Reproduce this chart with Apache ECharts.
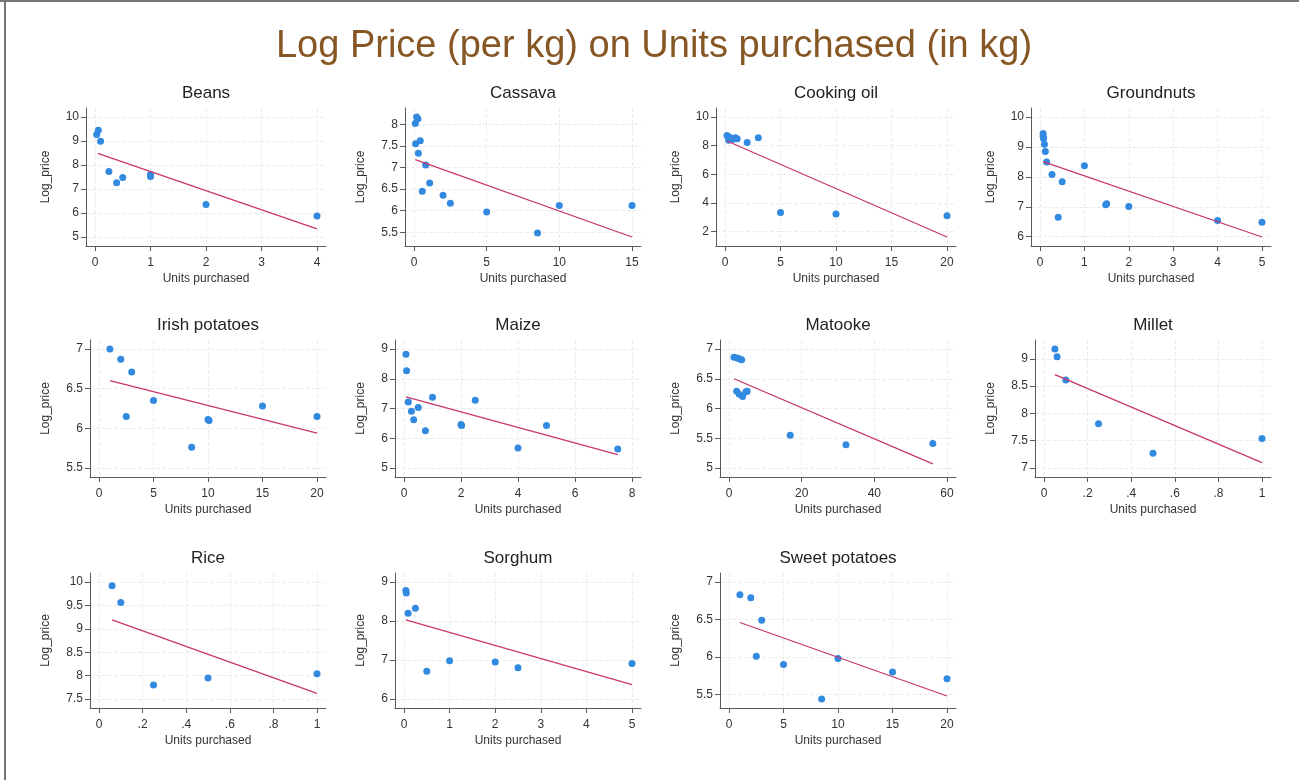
<!DOCTYPE html>
<html>
<head>
<meta charset="utf-8">
<script src="https://cdn.jsdelivr.net/npm/echarts@6/dist/echarts.min.js"></script>
<style>
  html, body { margin: 0; padding: 0; background: #fff; }
  #chart { width: 1299px; height: 780px; }
</style>
</head>
<body>
<div id="chart"></div>
<script>
// Panels, in reading order
const crops = ['Beans', 'Cassava', 'Cooking oil', 'Groundnuts', 'Irish potatoes', 'Maize',
               'Matooke', 'Millet', 'Rice', 'Sorghum', 'Sweet potatoes'];

// Observations: [units purchased (kg), log price per kg]
const beans = [[0.06, 9.45], [0.03, 9.27], [0.1, 8.99], [0.25, 7.73], [0.39, 7.26], [0.5, 7.48],
               [1, 7.6], [1, 7.52], [2, 6.35], [4, 5.87]];
const cassava = [[0.18, 8.17], [0.27, 8.13], [0.09, 8.02], [0.11, 7.55], [0.43, 7.62], [0.3, 7.33],
                 [0.8, 7.06], [0.57, 6.45], [1.08, 6.64], [2, 6.36], [2.5, 6.17], [5, 5.97],
                 [8.5, 5.48], [10, 6.12], [15, 6.12]];
const cookingOil = [[0.18, 8.71], [0.39, 8.6], [0.54, 8.5], [0.33, 8.37], [0.75, 8.44], [1.09, 8.48],
                    [0.94, 8.55], [2, 8.21], [3, 8.55], [5, 3.33], [10, 3.22], [20, 3.1]];
const groundnuts = [[0.07, 9.45], [0.07, 9.36], [0.08, 9.28], [0.1, 9.09], [0.12, 8.85], [0.15, 8.5],
                    [0.27, 8.08], [0.5, 7.84], [0.41, 6.65], [1, 8.37], [1.5, 7.1], [1.48, 7.07],
                    [2, 7.01], [4, 6.54], [5, 6.48]];
const irishPotatoes = [[1, 7.0], [2, 6.87], [3, 6.71], [2.5, 6.15], [5, 6.35], [10, 6.11], [10.1, 6.1],
                       [8.5, 5.76], [15, 6.28], [20, 6.15]];
const maize = [[0.07, 8.82], [0.09, 8.27], [0.15, 7.22], [0.26, 6.91], [0.34, 6.62], [0.5, 7.03],
               [0.75, 6.25], [1, 7.38], [2, 6.46], [2.02, 6.43], [2.5, 7.28], [4, 5.67], [5, 6.43],
               [7.5, 5.64]];
const matooke = [[1.37, 6.86], [2.29, 6.85], [3.0, 6.83], [3.48, 6.82], [2.1, 6.29], [2.84, 6.24],
                 [3.75, 6.2], [4.67, 6.28], [5.0, 6.29], [16.85, 5.55], [32.2, 5.39], [56.1, 5.41]];
const millet = [[0.05, 9.18], [0.06, 9.04], [0.1, 8.61], [0.25, 7.81], [0.5, 7.27], [1, 7.54]];
const rice = [[0.06, 9.92], [0.1, 9.56], [0.25, 7.8], [0.5, 7.95], [1, 8.04]];
const sorghum = [[0.04, 8.78], [0.05, 8.72], [0.09, 8.2], [0.25, 8.33], [0.5, 6.71], [1, 6.98],
                 [2, 6.95], [2.5, 6.8], [5, 6.91]];
const sweetPotatoes = [[1, 6.83], [2, 6.79], [3, 6.49], [2.5, 6.01], [5, 5.9], [8.5, 5.44], [10, 5.98],
                       [15, 5.8], [20, 5.71]];

const observations = [beans, cassava, cookingOil, groundnuts, irishPotatoes, maize,
                      matooke, millet, rice, sorghum, sweetPotatoes];

// Fitted regression line end points for each panel
const fitLines = [
  [[0.05, 8.48], [4, 5.34]],
  [[0.09, 7.18], [15, 5.39]],
  [[0.18, 8.32], [20, 1.61]],
  [[0.07, 8.51], [5, 5.99]],
  [[1, 6.6], [20, 5.94]],
  [[0.07, 7.39], [7.5, 5.45]],
  [[1.37, 6.5], [56.1, 5.07]],
  [[0.05, 8.71], [1, 7.1]],
  [[0.06, 9.19], [1, 7.62]],
  [[0.04, 8.03], [5, 6.37]],
  [[1, 6.46], [20, 5.48]]
];

// Tick values for each panel
const xTicks = [
  [0, 1, 2, 3, 4], [0, 5, 10, 15], [0, 5, 10, 15, 20], [0, 1, 2, 3, 4, 5],
  [0, 5, 10, 15, 20], [0, 2, 4, 6, 8], [0, 20, 40, 60], [0, 0.2, 0.4, 0.6, 0.8, 1],
  [0, 0.2, 0.4, 0.6, 0.8, 1], [0, 1, 2, 3, 4, 5], [0, 5, 10, 15, 20]
];
const yTicks = [
  [5, 6, 7, 8, 9, 10], [5.5, 6, 6.5, 7, 7.5, 8], [2, 4, 6, 8, 10], [6, 7, 8, 9, 10],
  [5.5, 6, 6.5, 7], [5, 6, 7, 8, 9], [5, 5.5, 6, 6.5, 7], [7, 7.5, 8, 8.5, 9],
  [7.5, 8, 8.5, 9, 9.5, 10], [6, 7, 8, 9], [5.5, 6, 6.5, 7]
];

const chartTitle = 'Log Price (per kg) on Units purchased (in kg)';
const xTitle = 'Units purchased';
const yTitle = 'Log_price';

// ---------------------------------------------------------------- layout
const FONT = "'Liberation Sans', Arial, Helvetica, sans-serif";
const measure = document.createElement('canvas').getContext('2d');
measure.font = '12px ' + FONT;
const textWidth = s => measure.measureText(s).width;

// Stata-style labels: drop the leading zero of decimals (".2", ".4" ...)
const tickText = v => {
  const s = String(v);
  return s.startsWith('0.') ? s.slice(1) : s;
};

const colX = [30, 345, 660, 975];
const panelW = 296;
const rowTop = [108, 340, 573];
const rowBottom = [246, 477, 708];
const INNER = 9;   // inner margin of each plot region, px

const MARK = '#3189e0';
const FIT = '#c8376c';
const AXIS = '#5a5a5a';
const GRIDC = '#ececec';

const grids = [], xAxes = [], yAxes = [], series = [], titles = [];

titles.push({
  text: chartTitle, left: 654, top: 47, padding: 0,
  textAlign: 'center', textVerticalAlign: 'middle',
  textStyle: { fontFamily: FONT, fontSize: 38, fontWeight: 'normal', color: '#875625' }
});

function paddedExtent(values, px) {
  const lo = Math.min(...values), hi = Math.max(...values);
  const unit = (hi - lo) / (px - 2 * INNER);
  return [lo - INNER * unit, hi + INNER * unit];
}

crops.forEach((name, i) => {
  const col = i % 4, row = Math.floor(i / 4);
  const px = colX[col];
  const labelW = Math.max(...yTicks[i].map(v => textWidth(tickText(v))));
  const left = Math.round(px + 34 + labelW + 9);
  const right = px + panelW;
  const top = rowTop[row], bottom = rowBottom[row];
  const w = right - left, h = bottom - top;

  grids.push({ left, top, width: w, height: h, containLabel: false });

  const pts = observations[i], fit = fitLines[i];
  const xs = pts.map(p => p[0]).concat(fit.map(p => p[0]), xTicks[i]);
  const ys = pts.map(p => p[1]).concat(fit.map(p => p[1]), yTicks[i]);
  const [xMin, xMax] = paddedExtent(xs, w);
  const [yMin, yMax] = paddedExtent(ys, h);

  const splitLine = { show: true, lineStyle: { color: GRIDC, width: 1, type: [4, 2] } };

  xAxes.push({
    gridIndex: i, type: 'value', min: xMin, max: xMax,
    name: xTitle, nameLocation: 'middle', nameGap: 27,
    nameTextStyle: { fontFamily: FONT, fontSize: 12, color: '#333' },
    axisLine: { show: true, onZero: false, lineStyle: { color: AXIS, width: 1 } },
    axisTick: { show: true, length: 5, customValues: xTicks[i], lineStyle: { color: AXIS } },
    axisLabel: { customValues: xTicks[i], formatter: tickText, margin: 11,
                 fontFamily: FONT, fontSize: 12, color: '#333' },
    splitLine
  });
  yAxes.push({
    gridIndex: i, type: 'value', min: yMin, max: yMax,
    name: yTitle, nameLocation: 'middle', nameRotate: 90,
    nameGap: left - (px + 15) - 7,
    nameTextStyle: { fontFamily: FONT, fontSize: 12, color: '#333' },
    axisLine: { show: true, onZero: false, lineStyle: { color: AXIS, width: 1 } },
    axisTick: { show: true, length: 5, customValues: yTicks[i], lineStyle: { color: AXIS } },
    axisLabel: { customValues: yTicks[i], formatter: tickText, margin: 7,
                 fontFamily: FONT, fontSize: 12, color: '#333' },
    splitLine
  });

  series.push({
    type: 'scatter', xAxisIndex: i, yAxisIndex: i, data: pts,
    symbol: 'circle', symbolSize: 7, itemStyle: { color: MARK, opacity: 1 }, z: 2
  });
  series.push({
    type: 'line', xAxisIndex: i, yAxisIndex: i, data: fit,
    showSymbol: false, symbol: 'none', silent: true,
    lineStyle: { color: FIT, width: 1.3 }, z: 3
  });

  titles.push({
    text: name, left: (left + right) / 2, top: top - 15, padding: 0,
    textAlign: 'center', textVerticalAlign: 'middle',
    textStyle: { fontFamily: FONT, fontSize: 17, fontWeight: 'normal', color: '#222' }
  });
});

const chart = echarts.init(document.getElementById('chart'), null, { renderer: 'canvas' });
chart.setOption({
  backgroundColor: '#ffffff',
  animation: false,
  title: titles,
  grid: grids,
  xAxis: xAxes,
  yAxis: yAxes,
  series,
  graphic: [
    { type: 'line', shape: { x1: 5, y1: 0, x2: 5, y2: 780 }, style: { stroke: '#777', lineWidth: 2 } },
    { type: 'line', shape: { x1: 0, y1: 1, x2: 1299, y2: 1 }, style: { stroke: '#777', lineWidth: 2 } }
  ]
});
</script>
</body>
</html>
